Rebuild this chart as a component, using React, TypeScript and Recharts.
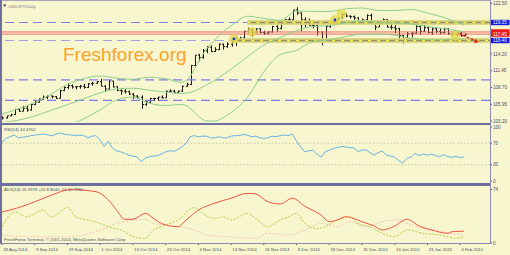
import React from 'react';
import { ComposedChart, Bar, Line, XAxis, YAxis, ReferenceLine, ReferenceDot } from 'recharts';

// ---------------------------------------------------------------------------
// Data (USDJPY daily, 28 Aug 2014 .. 5 Feb 2015), x = bar number
// ---------------------------------------------------------------------------

const dateTicks = [0, 8, 16, 24, 32, 40, 48, 56, 64, 72, 80, 88, 96, 104, 112];
const dateLabels = [
  '28 Aug 2014', '9 Sep 2014', '19 Sep 2014', '1 Oct 2014', '13 Oct 2014', '23 Oct 2014',
  '4 Nov 2014', '14 Nov 2014', '26 Nov 2014', '8 Dec 2014', '18 Dec 2014', '31 Dec 2014',
  '13 Jan 2015', '23 Jan 2015', '4 Feb 2015',
];

const opens = [
  103.85, 103.7, 104.05, 104.25, 105.1, 104.8, 105.3, 105.0, 105.9, 106.3,
  106.8, 107.1, 107.3, 107.2, 106.9, 108.2, 108.7, 109.0, 108.8, 108.85,
  108.9, 108.7, 109.3, 109.4, 109.65, 108.9, 108.45, 109.75, 108.8, 108.2,
  108.1, 108.0, 107.6, 107.3, 107.1, 105.9, 106.3, 106.9, 106.9, 107.1,
  107.0, 108.1, 108.1, 107.9, 108.1, 108.9, 109.2, 112.3, 114.0, 113.6,
  114.7, 115.3, 114.6, 114.9, 115.8, 115.4, 115.8, 116.3, 116.6, 116.8,
  117.9, 118.2, 117.7, 118.3, 117.7, 117.6, 117.8, 118.7, 118.4, 119.2,
  119.8, 119.8, 121.4, 120.9, 119.8, 119.7, 118.9, 118.8, 117.8, 116.5,
  118.7, 119.2, 119.5, 120.1, 120.7, 120.4, 120.3, 120.1, 119.5, 119.8,
  120.5, 119.5, 118.6, 119.3, 119.8, 118.6, 118.5, 118.3, 117.2, 116.4,
  117.5, 117.6, 118.7, 117.9, 118.5, 117.7, 118.3, 117.9, 117.7, 118.3,
  117.5, 117.4, 117.6, 117.2,
];
const highs = [
  103.95, 104.05, 104.4, 105.2, 105.3, 105.7, 105.7, 106.0, 106.45, 106.9,
  107.4, 107.4, 107.4, 107.3, 108.3, 108.9, 109.4, 109.2, 108.9, 109.1,
  109.3, 109.4, 109.6, 109.75, 110.1, 109.1, 109.9, 109.8, 108.9, 108.4,
  108.4, 108.2, 107.8, 107.4, 107.4, 106.5, 107.0, 107.0, 107.2, 107.4,
  108.2, 108.4, 108.3, 108.2, 109.0, 109.5, 112.4, 114.0, 114.2, 115.0,
  115.5, 115.6, 115.3, 115.9, 115.9, 116.1, 116.4, 117.1, 117.0, 118.0,
  118.5, 118.2, 118.4, 118.4, 118.0, 117.9, 118.8, 118.9, 119.3, 119.9,
  120.2, 121.4, 121.85, 121.0, 120.2, 120.0, 119.5, 119.1, 117.9, 118.8,
  119.4, 119.7, 120.2, 120.8, 120.8, 120.5, 120.5, 120.2, 120.0, 120.7,
  120.8, 119.7, 119.7, 120.0, 119.9, 119.1, 118.9, 118.5, 117.3, 117.8,
  117.8, 118.9, 118.8, 118.9, 118.6, 118.5, 118.6, 118.4, 118.5, 118.4,
  117.7, 117.7, 117.8, 117.6,
];
const lows = [
  103.45, 103.6, 104.0, 104.2, 104.7, 104.8, 104.7, 104.9, 105.8, 106.2,
  106.7, 106.8, 106.9, 106.8, 106.9, 108.1, 108.4, 108.5, 108.4, 108.5,
  108.5, 108.6, 109.0, 109.3, 108.9, 108.0, 108.4, 108.7, 108.1, 107.5,
  107.7, 107.5, 106.8, 106.9, 105.2, 105.7, 106.2, 106.5, 106.5, 106.9,
  107.0, 107.9, 107.7, 107.8, 108.0, 108.8, 109.1, 112.2, 113.0, 113.4,
  114.3, 114.5, 114.5, 114.8, 114.9, 115.2, 115.4, 115.5, 116.4, 116.6,
  117.5, 117.0, 117.6, 117.6, 117.3, 117.4, 117.7, 117.8, 118.2, 119.1,
  119.2, 119.7, 120.6, 117.9, 118.6, 118.8, 118.4, 117.2, 115.6, 116.5,
  118.5, 118.9, 119.4, 119.9, 120.2, 120.0, 119.8, 119.2, 119.3, 119.7,
  119.3, 118.1, 118.6, 119.2, 118.5, 118.2, 117.6, 116.7, 115.9, 116.1,
  116.9, 117.5, 117.3, 117.8, 117.6, 117.3, 117.6, 117.4, 117.5, 117.3,
  117.1, 117.0, 117.0, 117.1,
];
const closes = [
  103.7, 104.05, 104.25, 105.1, 104.8, 105.3, 105.0, 105.9, 106.3, 106.8,
  107.1, 107.3, 107.2, 106.9, 108.2, 108.7, 109.0, 108.8, 108.85, 108.9,
  108.7, 109.3, 109.4, 109.65, 108.9, 108.45, 109.75, 108.8, 108.2, 108.1,
  108.0, 107.6, 107.3, 107.1, 105.9, 106.3, 106.9, 106.9, 107.1, 107.0,
  108.1, 108.1, 107.9, 108.1, 108.9, 109.2, 112.3, 114.0, 113.6, 114.7,
  115.3, 114.6, 114.9, 115.8, 115.4, 115.8, 116.3, 116.6, 116.8, 117.9,
  118.2, 117.7, 118.3, 117.7, 117.6, 117.8, 118.7, 118.4, 119.2, 119.8,
  119.8, 121.4, 120.9, 119.8, 119.7, 118.9, 118.8, 117.8, 116.5, 118.7,
  119.2, 119.5, 120.1, 120.7, 120.4, 120.3, 120.1, 119.5, 119.8, 120.5,
  119.5, 118.6, 119.3, 119.8, 118.6, 118.5, 118.3, 117.2, 116.4, 117.5,
  117.6, 118.7, 117.9, 118.5, 117.7, 118.3, 117.9, 117.7, 118.3, 117.5,
  117.4, 117.6, 117.2, 117.4,
];

// Bollinger bands
const bandIdx = [0, 4, 8, 12, 16, 20, 24, 28, 32, 36, 40, 44, 46, 48, 50, 52, 54, 56, 60, 64, 68, 72, 76, 80, 84, 88, 92, 96, 100, 104, 108, 113];
const bandUpper = [104.35, 105.18, 106.23, 107.61, 109.2, 110.16, 110.59, 110.23, 110.04, 110.37, 110.14, 109.53, 110.51, 112.84, 115.02, 116.51, 117.8, 118.8, 120.38, 120.02, 119.71, 121.22, 121.16, 121.16, 121.59, 121.73, 121.33, 121.31, 121.49, 120.9, 120.18, 118.95];
const bandMid = [102.93, 103.34, 104.03, 104.95, 105.88, 106.86, 107.81, 108.45, 108.58, 108.25, 107.94, 107.73, 107.89, 108.42, 109.12, 109.85, 110.76, 111.7, 113.72, 115.64, 116.89, 118.0, 118.7, 118.84, 119.31, 119.59, 119.39, 119.29, 119.11, 118.72, 118.34, 117.81];
const bandLower = [101.5, 101.5, 101.83, 102.29, 102.56, 103.56, 105.03, 106.67, 107.12, 106.13, 105.74, 105.93, 105.27, 104.0, 103.22, 103.19, 103.72, 104.6, 107.06, 111.26, 114.07, 114.78, 116.24, 116.52, 117.03, 117.45, 117.45, 117.27, 116.73, 116.54, 116.5, 116.67];

// RSI(14), one value per bar
const rsiVals = [
  72, 79, 82, 85, 80, 81, 82, 84, 85, 86,
  87, 86, 84, 86, 89, 87, 86, 85, 84, 85,
  84, 80, 83, 84, 76, 64, 74, 61, 56, 54,
  51, 48, 46, 45, 36, 42, 45, 46, 47, 50,
  54, 56, 55, 58, 63, 70, 82, 84, 82, 83,
  83, 80, 80, 82, 80, 80, 83, 84, 84, 86,
  85, 82, 83, 80, 79, 80, 83, 82, 84, 85,
  84, 87, 74, 63, 54, 56, 57, 50, 44, 54,
  57, 60, 62, 64, 63, 62, 61, 55, 57, 58,
  52, 48, 53, 55, 48, 46, 44, 38, 33, 42,
  44, 51, 47, 50, 48, 50, 47, 45, 49, 45,
  44, 45.5, 43.5, 44.5,
];

// ADX(14) with +DI / -DI
const adxIdx = [0, 2, 8, 12, 16, 17, 20, 23, 26, 28, 30, 32, 35, 37, 39, 43, 45, 48, 52, 56, 60, 62, 65, 68, 71, 74, 78, 80, 82, 84, 86, 88, 91, 93, 96, 99, 102, 105, 109, 110, 113];
const adxVals = [43, 45.6, 57, 66, 73.5, 74, 73, 71, 59.5, 45.6, 32.8, 32.8, 41, 34, 27, 22.5, 31.8, 45.6, 55, 62, 68.7, 67.8, 57, 54, 62, 51, 38.7, 29.5, 31.8, 36.4, 34, 29.5, 23.5, 18, 23.5, 32.8, 23.5, 18, 13.4, 15.6, 16.3];
const plusIdx = [0, 3, 6, 10, 12, 16, 18, 21, 24, 26, 30, 32, 35, 37, 40, 43, 47, 49, 52, 54, 56, 60, 62, 65, 68, 70, 72, 74, 77, 79, 82, 85, 87, 90, 93, 96, 99, 103, 107, 111, 113];
const plusVals = [22.5, 43, 36, 45.6, 36, 49, 36, 31.8, 27, 22.5, 15.6, 8.7, 6.5, 18, 25, 31.8, 49, 41, 34, 36, 31.8, 41, 34, 22.5, 31.8, 36, 41, 27, 20, 22.5, 31.8, 36, 27, 22.5, 13.4, 8.7, 18, 13.4, 11, 6.5, 8.8];
const minusIdx = [0, 8, 16, 24, 28, 32, 35, 37, 40, 43, 47, 50, 55, 62, 65, 70, 74, 78, 82, 85, 89, 93, 97, 99, 103, 106, 109, 113];
const minusVals = [11, 8.7, 8.7, 18, 27, 31.8, 32.8, 27, 25, 22.5, 18, 11, 8.7, 6.5, 13.4, 11, 18, 27, 22.5, 29.5, 22.5, 29.5, 31.8, 27, 20, 18, 14, 11];

// price scale labels and chart objects
const priceTicks = [103.2, 105.95, 108.7, 111.45, 114.2, 122.5, 116.4, 117.8, 117.45, 119.35];
const blueLevels = [119.35, 109.96, 106.57];
const paleLevels = [116.4];
const redLevels = [117.8, 117.45];
const channelStart = [60, 56.5];
const channelLevel = [119.35, 116.4];
const markerIdx = [56.7, 61.1, 81.4, 83.0, 110.8];
const markerPrice = [116.65, 117.8, 119.76, 120.75, 117.14];
const arrowFrom = { i: 111.5, p: 117.5 };
const arrowTo = { i: 116.1, p: 116.32 };

// ---------------------------------------------------------------------------
// Look
// ---------------------------------------------------------------------------

const BG = '#F8F6CE';
const FRAME = '#6E6EA0';
const AXIS_TEXT = '#4A4A6E';
const FONT = "'Liberation Sans', Arial, sans-serif";
const X_DOMAIN: [number, number] = [0, 119.3];
const BOX: Record<string, string> = { '119.35': '#1018E8', '116.40': '#1018E8', '117.80': '#E81A1A', '117.45': '#E81A1A' };
const HIDDEN_LABEL = ['117.80'];

const bars = opens.map((o, i) => ({ i, o, h: highs[i], l: lows[i], c: closes[i] }));
const bands = bandIdx.map((i, k) => ({ i, up: bandUpper[k], mid: bandMid[k], lo: bandLower[k] }));
const rsiData = rsiVals.map((v, i) => ({ i, v }));
const adxData = adxIdx.map((i, k) => ({ i, v: adxVals[k] }));
const plusData = plusIdx.map((i, k) => ({ i, v: plusVals[k] }));
const minusData = minusIdx.map((i, k) => ({ i, v: minusVals[k] }));

function OhlcShape(props: any) {
  const { x, y, width, height, payload } = props;
  if (x == null || y == null) return null;
  const top = Math.min(y, y + height);
  const bot = Math.max(y, y + height);
  const span = payload.h - payload.l || 1;
  const k = (bot - top) / span;
  const cx = Math.round(x + width / 2) + 0.5;
  const oy = top + (payload.h - payload.o) * k;
  const cy = top + (payload.h - payload.c) * k;
  return (
    <g stroke="#1a1a1a" strokeWidth={1}>
      <line x1={cx} x2={cx} y1={top} y2={bot} />
      <line x1={cx - 1.6} x2={cx} y1={oy} y2={oy} />
      <line x1={cx} x2={cx + 1.6} y1={cy} y2={cy} />
    </g>
  );
}

function PriceTick(props: any) {
  const { x, y, payload } = props;
  const label = Number(payload.value).toFixed(2);
  const bg = BOX[label];
  // the 117.80 box sits under the 117.45 one, its text is covered
  const showText = !HIDDEN_LABEL.includes(label);
  return (
    <g>
      {bg && <rect x={x - 2.5} y={y - 2.7} width={19} height={5.4} fill={bg} />}
      {showText && (
        <text x={x} y={y} dy={1.6} fontSize={4.6} fontFamily={FONT} fill={bg ? '#ffffff' : AXIS_TEXT}>
          {label}
        </text>
      )}
    </g>
  );
}

function PlainTick(props: any) {
  const { x, y, payload } = props;
  return (
    <text x={x} y={y} dy={1.6} fontSize={4.6} fontFamily={FONT} fill={AXIS_TEXT}>
      {payload.value}
    </text>
  );
}

function DateTick(props: any) {
  const { x, y, payload } = props;
  const k = dateTicks.indexOf(payload.value);
  return (
    <text x={x + 1.2} y={y + 6.4} fontSize={4.3} fontFamily={FONT} fill={AXIS_TEXT}>
      {dateLabels[k]}
    </text>
  );
}

function ArrowHead(props: any) {
  const { cx, cy } = props;
  if (cx == null) return null;
  return <path d={`M${cx + 2},${cy + 1} L${cx - 3},${cy + 2.2} L${cx - 1.2},${cy - 2.2} Z`} fill="#E82020" />;
}

function MainChart() {
  return (
    <ComposedChart width={510} height={125} data={bars} margin={{ top: 2, right: 0, bottom: 3, left: 2 }}>
      <XAxis type="number" dataKey="i" domain={X_DOMAIN} allowDataOverflow hide />
      <YAxis
        orientation="right"
        width={20}
        domain={[103.04, 122.71]}
        allowDataOverflow
        ticks={priceTicks}
        interval={0}
        axisLine={false}
        tickSize={2}
        tickMargin={1}
        tickLine={{ stroke: AXIS_TEXT }}
        tick={(p: any) => <PriceTick {...p} />}
      />
      {blueLevels.map((lv) => (
        <ReferenceLine key={`b${lv}`} y={lv} stroke="#7C7CEC" strokeWidth={1.2} strokeDasharray="9 5" />
      ))}
      {paleLevels.map((lv) => (
        <ReferenceLine key={`p${lv}`} y={lv} stroke="#A0A0E6" strokeDasharray="9 5" />
      ))}
      {redLevels.map((lv) => (
        <ReferenceLine key={`r${lv}`} y={lv} stroke="#F06A6A" />
      ))}
      {channelLevel.map((lv, k) => (
        <ReferenceLine key={`cw${k}`} segment={[{ x: channelStart[k], y: lv }, { x: X_DOMAIN[1], y: lv }]} stroke="#DCD67A" strokeWidth={5} strokeOpacity={0.9} />
      ))}
      {channelLevel.map((lv, k) => (
        <ReferenceLine key={`cg${k}`} segment={[{ x: channelStart[k], y: lv }, { x: X_DOMAIN[1], y: lv }]} stroke="#8E8C6A" strokeWidth={1.4} />
      ))}
      {channelLevel.map((lv, k) => (
        <ReferenceLine key={`cy${k}`} segment={[{ x: channelStart[k], y: lv }, { x: X_DOMAIN[1], y: lv }]} stroke="#FFF430" strokeWidth={1.4} strokeDasharray="3 6" />
      ))}
      <Line data={bands} dataKey="up" type="monotone" stroke="#8CCF8C" strokeWidth={1} dot={false} isAnimationActive={false} />
      <Line data={bands} dataKey="mid" type="monotone" stroke="#8CCF8C" strokeWidth={1} dot={false} isAnimationActive={false} />
      <Line data={bands} dataKey="lo" type="monotone" stroke="#8CCF8C" strokeWidth={1} dot={false} isAnimationActive={false} />
      {markerIdx.map((mi, k) => (
        <ReferenceDot key={`m${k}`} x={mi} y={markerPrice[k]} r={5} fill="#E4DA4A" fillOpacity={0.75} stroke="none" />
      ))}
      <Bar dataKey={(d: any) => [d.l, d.h]} barSize={3} shape={(p: any) => <OhlcShape {...p} />} isAnimationActive={false} />
      <ReferenceLine segment={[{ x: arrowFrom.i, y: arrowFrom.p }, { x: arrowTo.i, y: arrowTo.p }]} stroke="#E82020" strokeWidth={1.3} strokeDasharray="3 1.5" />
      <ReferenceDot x={arrowTo.i} y={arrowTo.p} r={2} shape={(p: any) => <ArrowHead {...p} />} />
      <ReferenceDot x={markerIdx[0]} y={markerPrice[0]} r={1.4} fill="#1830D0" stroke="none" />
      <ReferenceDot x={markerIdx[2]} y={markerPrice[2]} r={1.4} fill="#1830D0" stroke="none" />
    </ComposedChart>
  );
}

function RsiChart() {
  return (
    <ComposedChart width={510} height={58} data={rsiData} margin={{ top: 2, right: 0, bottom: 2, left: 2 }}>
      <XAxis type="number" dataKey="i" domain={X_DOMAIN} allowDataOverflow hide />
      <YAxis
        orientation="right"
        width={20}
        domain={[0, 100]}
        ticks={[0, 30, 70, 100]}
        interval={0}
        axisLine={false}
        tickSize={2}
        tickMargin={1}
        tickLine={{ stroke: AXIS_TEXT }}
        tick={(p: any) => <PlainTick {...p} />}
      />
      <ReferenceLine y={70} stroke="#C4C2A2" strokeDasharray="1.5 2" />
      <ReferenceLine y={30} stroke="#C4C2A2" strokeDasharray="1.5 2" />
      <Line dataKey="v" type="linear" stroke="#68B2E6" strokeWidth={1} dot={false} isAnimationActive={false} />
    </ComposedChart>
  );
}

function AdxChart() {
  return (
    <ComposedChart width={510} height={70} data={adxData} margin={{ top: 4.5, right: 0, bottom: 0, left: 2 }}>
      <XAxis
        type="number"
        dataKey="i"
        domain={X_DOMAIN}
        allowDataOverflow
        ticks={dateTicks}
        interval={0}
        height={12}
        tickSize={2}
        tickMargin={0}
        axisLine={false}
        tickLine={{ stroke: AXIS_TEXT }}
        tick={(p: any) => <DateTick {...p} />}
      />
      <YAxis
        orientation="right"
        width={20}
        domain={[0, 74]}
        ticks={[0, 74]}
        interval={0}
        axisLine={false}
        tickSize={2}
        tickMargin={1}
        tickLine={{ stroke: AXIS_TEXT }}
        tick={(p: any) => <PlainTick {...p} />}
      />
      <Line data={minusData} dataKey="v" type="monotone" stroke="#F4C4B8" strokeWidth={1} strokeDasharray="2 1.5" dot={false} isAnimationActive={false} />
      <Line data={plusData} dataKey="v" type="monotone" stroke="#B2CC40" strokeWidth={1} strokeDasharray="2 1.5" dot={false} isAnimationActive={false} />
      <Line dataKey="v" type="monotone" stroke="#F25444" strokeWidth={1} dot={false} isAnimationActive={false} />
    </ComposedChart>
  );
}

export default function App() {
  const frame = (left: number, top: number, width: number, height: number, color = FRAME) => (
    <div style={{ position: 'absolute', left, top, width, height, background: color }} />
  );
  return (
    <div style={{ position: 'fixed', left: 0, top: 0, width: 510, height: 255, background: BG, overflow: 'hidden' }}>
      <svg width={510} height={255} style={{ position: 'absolute', left: 0, top: 0 }}>
        <text x={63} y={61} fontSize={19} fontFamily={FONT} fill="#FBA22A">Freshforex.org</text>
      </svg>
      <div style={{ position: 'absolute', left: 0, top: 0 }}><MainChart /></div>
      <div style={{ position: 'absolute', left: 0, top: 125 }}><RsiChart /></div>
      <div style={{ position: 'absolute', left: 0, top: 185 }}><AdxChart /></div>
      {frame(0, 0, 490, 1, '#A8A8BC')}
      {frame(0, 0, 1.5, 243)}
      {frame(490, 0, 1, 243, '#8A8AAE')}
      {frame(0, 122.5, 490, 2.5)}
      {frame(0, 183, 490, 2.5)}
      {frame(0, 243, 491, 1, '#8A8AAE')}
      <svg width={510} height={255} style={{ position: 'absolute', left: 0, top: 0 }}>
        <path d="M3,4.6 L6.4,4.6 L4.7,7 Z" fill="#3a3a5a" />
        <text x={8.5} y={7.6} fontSize={4.3} fontFamily={FONT} fill="#7A7A92">USDJPY,Daily</text>
        <text x={4} y={130.6} fontSize={4.3} fontFamily={FONT} fill="#50506A">RSI(14) 44.4762</text>
        <text x={4} y={191.4} fontSize={4.3} fontFamily={FONT} fill="#50506A">ADX(14) 16.2979 +DI 8.8040 -DI 10.7960</text>
        <text x={4} y={241} fontSize={4.3} fontFamily={FONT} fill="#50506A">FreshForex Terminal, © 2001-2014, MetaQuotes Software Corp.</text>
      </svg>
    </div>
  );
}
